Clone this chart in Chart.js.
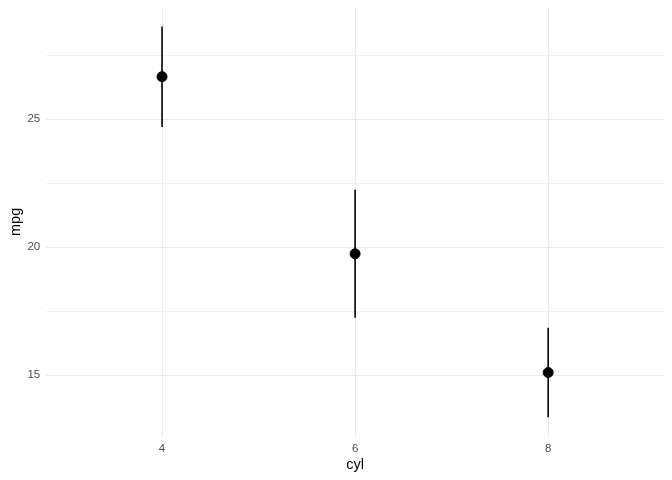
<!DOCTYPE html>
<html lang="en">
<head>
  <meta charset="UTF-8">
  <title>mpg by cyl</title>
  <script src="https://cdn.jsdelivr.net/npm/chart.js"></script>
  <style>
    html, body { margin: 0; padding: 0; background: #fff; }
    #wrap { width: 672px; height: 480px; }
  </style>
</head>
<body>
<div id="wrap"><canvas id="chart" width="672" height="480"></canvas></div>

<script>
    // values
    const cyl = [4, 6, 8];
    const mpgMean = [26.66, 19.74, 15.10];
    const mpgLow = [24.69, 17.24, 13.35];
    const mpgHigh = [28.62, 22.24, 16.85];
    const yTicks = [15, 17.5, 20, 22.5, 25, 27.5];
    const xTicks = [4, 6, 8];

    // vertical segments, separated by gaps
    const bars = [];
    cyl.forEach((c, i) => {
        bars.push({x: c, y: mpgLow[i]});
        bars.push({x: c, y: mpgHigh[i]});
        bars.push({x: c, y: null});
    });
    const points = cyl.map((c, i) => ({x: c, y: mpgMean[i]}));

    const font = 'Liberation Sans, Arial, sans-serif';

    new Chart(document.getElementById('chart'), {
        type: 'scatter',
        data: {
            datasets: [
                {
                    type: 'line',
                    data: bars,
                    borderColor: '#000',
                    borderWidth: 1.6,
                    pointRadius: 0,
                    spanGaps: false,
                    fill: false
                },
                {
                    data: points,
                    backgroundColor: '#000',
                    borderColor: '#000',
                    pointRadius: 5,
                    pointHoverRadius: 5
                }
            ]
        },
        options: {
            responsive: false,
            animation: false,
            layout: { autoPadding: false, padding: { top: 7, right: 8, bottom: 6, left: 7 } },
            plugins: {
                legend: { display: false },
                tooltip: { enabled: false }
            },
            scales: {
                x: {
                    type: 'linear',
                    min: 2.8,
                    max: 9.2,
                    afterBuildTicks: axis => { axis.ticks = xTicks.map(v => ({value: v})); },
                    border: { display: false },
                    grid: { color: '#EBEBEB', lineWidth: 1, drawTicks: false },
                    ticks: { color: '#4D4D4D', font: { family: font, size: 11.5 }, padding: 5 },
                    title: { display: true, text: 'cyl', color: '#000', font: { family: font, size: 14.5 }, padding: { top: -4, bottom: 0 } }
                },
                y: {
                    min: 12.59,
                    max: 29.38,
                    afterBuildTicks: axis => { axis.ticks = yTicks.map(v => ({value: v})); },
                    afterFit: axis => { axis.paddingTop = 0; axis.paddingBottom = 0; },
                    border: { display: false },
                    grid: {
                        color: ctx => (ctx.tick && ctx.tick.value % 5 === 0) ? '#EBEBEB' : '#F1F1F1',
                        lineWidth: 1,
                        drawTicks: false
                    },
                    ticks: {
                        color: '#4D4D4D',
                        font: { family: font, size: 11.5 },
                        padding: 6,
                        callback: v => (v % 5 === 0) ? String(v) : ''
                    },
                    title: { display: true, text: 'mpg', color: '#000', font: { family: font, size: 14.5 }, padding: { top: 0, bottom: -3 } }
                }
            }
        }
    });
</script>
</body>
</html>
